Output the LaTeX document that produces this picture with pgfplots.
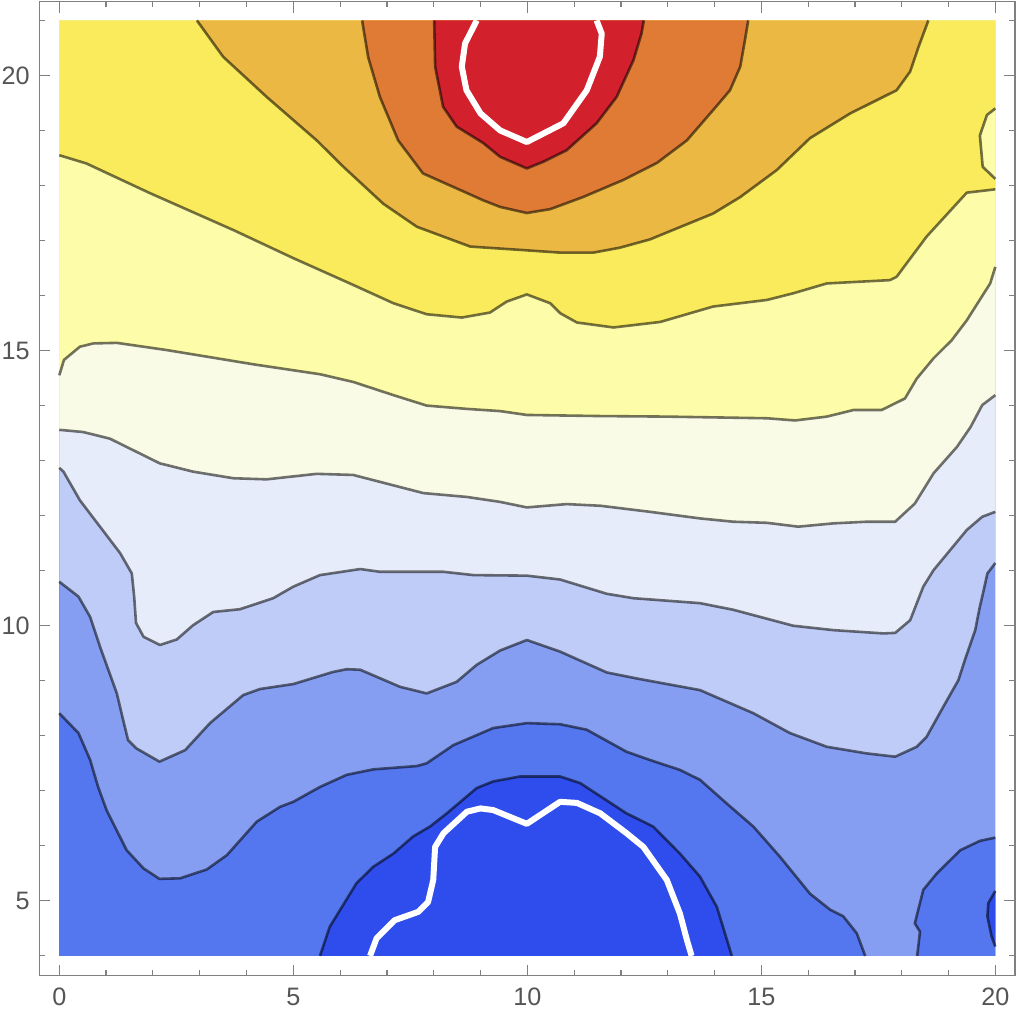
\documentclass[border=0pt]{standalone}
\usepackage{fontspec}
\setmainfont{Liberation Sans}
\usepackage{pgfplots}
\usepackage{pgfplotstable}
\pgfplotsset{compat=1.18}

% band colours, low to high
\definecolor{b0}{RGB}{46,77,236}
\definecolor{b1}{RGB}{84,118,238}
\definecolor{b2}{RGB}{133,158,241}
\definecolor{b3}{RGB}{191,204,247}
\definecolor{b4}{RGB}{231,236,250}
\definecolor{b5}{RGB}{250,251,230}
\definecolor{b6}{RGB}{253,252,168}
\definecolor{b7}{RGB}{249,235,91}
\definecolor{b8}{RGB}{235,185,67}
\definecolor{b9}{RGB}{223,123,53}
\definecolor{b10}{RGB}{210,32,45}
\definecolor{framegray}{RGB}{128,128,128}
\definecolor{labelgray}{RGB}{85,85,85}

% contour lines
\pgfplotstableread{
x y
5.57 4.00
5.78 4.53
6.35 5.32
6.71 5.62
7.14 5.86
7.56 6.17
7.92 6.35
8.28 6.59
8.92 7.05
9.27 7.17
9.84 7.26
10.70 7.26
11.13 7.14
12.12 6.59
12.69 6.35
13.26 5.86
13.69 5.44
14.05 4.89
14.37 4.00
}\Cone
\pgfplotstableread{
x y
20.00 5.18
19.85 4.96
19.83 4.72
19.92 4.35
20.00 4.17
}\Conetiny
\pgfplotstableread{
x y
0.00 8.41
0.41 8.05
0.66 7.56
0.83 7.07
1.01 6.65
1.44 5.92
1.80 5.59
2.14 5.40
2.58 5.41
3.15 5.57
3.58 5.83
4.22 6.44
4.72 6.71
5.00 6.80
5.57 7.07
6.14 7.29
6.71 7.39
7.64 7.45
7.85 7.50
8.42 7.83
9.27 8.14
9.99 8.23
10.70 8.21
11.27 8.11
12.12 7.71
12.62 7.56
13.26 7.38
13.69 7.20
14.26 6.77
14.83 6.35
15.40 5.80
16.04 5.13
16.47 4.84
16.75 4.72
17.04 4.41
17.22 4.00
}\Ctwo
\pgfplotstableread{
x y
18.33 4.00
18.39 4.44
18.28 4.59
18.46 5.20
18.75 5.50
19.25 5.92
19.67 6.09
20.00 6.15
}\Ctwoblob
\pgfplotstableread{
x y
0.00 10.80
0.41 10.53
0.66 10.16
0.87 9.62
1.23 8.77
1.33 8.41
1.47 7.92
1.65 7.77
2.14 7.53
2.69 7.74
3.22 8.23
3.93 8.74
4.29 8.85
5.00 8.94
5.85 9.16
6.14 9.21
6.43 9.20
7.28 8.89
7.85 8.77
8.49 8.98
8.92 9.29
9.42 9.55
9.99 9.74
10.70 9.53
11.70 9.15
12.41 9.03
13.69 8.83
14.83 8.41
15.61 8.05
16.40 7.80
17.25 7.68
17.86 7.62
18.32 7.80
18.53 7.98
18.89 8.53
19.21 9.01
19.35 9.38
19.57 9.92
19.67 10.35
19.72 10.53
19.83 10.95
20.00 11.14
}\Cthree
\pgfplotstableread{
x y
0.00 12.87
0.09 12.80
0.44 12.28
0.87 11.80
1.30 11.32
1.55 10.95
1.60 10.53
1.64 10.05
1.80 9.80
2.15 9.65
2.51 9.75
2.86 10.01
3.29 10.25
3.86 10.30
4.57 10.50
5.00 10.71
5.57 10.92
6.43 11.03
6.85 10.98
8.21 10.98
8.85 10.92
9.99 10.91
10.70 10.84
11.70 10.58
12.27 10.50
13.69 10.41
14.40 10.29
15.68 10.00
16.54 9.92
17.61 9.86
17.86 9.87
18.18 10.10
18.46 10.71
18.68 11.01
19.39 11.74
19.72 11.98
20.00 12.07
}\Cfour
\pgfplotstableread{
x y
0.00 13.56
0.51 13.52
1.08 13.40
2.15 12.95
2.86 12.80
3.72 12.68
4.43 12.66
5.50 12.76
6.28 12.74
7.78 12.41
8.71 12.34
9.42 12.25
9.99 12.15
10.84 12.21
11.56 12.18
12.62 12.07
13.69 11.95
14.40 11.89
15.12 11.87
15.79 11.80
16.54 11.86
17.25 11.89
17.86 11.89
18.28 12.22
18.68 12.77
19.18 13.25
19.47 13.61
19.72 14.01
20.00 14.19
}\Cfive
\pgfplotstableread{
x y
0.00 14.55
0.10 14.83
0.44 15.07
0.73 15.13
1.23 15.14
2.29 15.01
4.15 14.75
5.57 14.57
6.28 14.43
7.14 14.19
7.85 14.00
8.71 13.94
9.42 13.90
9.99 13.83
11.56 13.81
12.98 13.80
15.12 13.77
15.72 13.73
16.40 13.80
16.97 13.92
17.57 13.92
18.07 14.13
18.32 14.49
18.68 14.86
19.07 15.19
19.39 15.55
19.89 16.22
20.00 16.52
}\Csix
\pgfplotstableread{
x y
0.00 18.55
0.58 18.40
1.94 17.86
3.72 17.19
5.00 16.68
6.21 16.22
7.14 15.86
7.85 15.66
8.60 15.60
9.20 15.69
9.56 15.89
9.99 16.02
10.49 15.86
10.70 15.68
11.06 15.51
11.84 15.42
12.84 15.52
13.97 15.80
15.12 15.92
15.68 16.04
16.40 16.22
17.75 16.28
17.89 16.34
18.53 17.07
19.39 17.87
20.00 17.93
}\Cseven
\pgfplotstableread{
x y
20.00 19.40
19.82 19.28
19.67 18.91
19.73 18.34
20.00 18.12
}\Cbump
\pgfplotstableread{
x y
2.94 21.00
3.50 20.34
4.43 19.61
5.50 18.82
6.07 18.34
6.92 17.67
7.64 17.25
8.78 16.89
9.84 16.83
10.70 16.78
11.41 16.78
11.98 16.87
12.62 17.02
13.97 17.49
14.55 17.79
15.33 18.28
16.04 18.86
16.90 19.31
17.89 19.73
18.18 20.07
18.36 20.52
18.57 21.00
}\Ceight
\pgfplotstableread{
x y
6.47 21.00
6.60 20.33
6.85 19.61
7.24 18.82
7.77 18.22
8.56 17.92
9.06 17.73
9.42 17.61
9.99 17.50
10.49 17.57
11.19 17.79
12.05 18.10
12.77 18.41
13.41 18.82
13.97 19.37
14.33 19.73
14.55 20.16
14.65 20.64
14.72 21.00
}\Cnine
\pgfplotstableread{
x y
8.01 21.00
8.03 20.16
8.20 19.43
8.49 19.07
9.06 18.77
9.42 18.52
9.99 18.31
10.34 18.43
10.84 18.64
11.48 19.13
11.91 19.61
12.27 20.28
12.44 20.76
12.49 21.00
}\Cten
\pgfplotstableread{
x y
8.92 21.00
8.67 20.58
8.60 20.16
8.70 19.73
9.00 19.31
9.42 19.00
9.99 18.79
10.77 19.13
11.27 19.73
11.55 20.34
11.59 20.76
11.48 21.00
}\Wtop
\pgfplotstableread{
x y
6.64 4.00
6.78 4.32
7.17 4.65
7.67 4.80
7.88 4.98
7.99 5.38
8.03 5.98
8.21 6.23
8.71 6.62
9.00 6.68
9.27 6.65
9.99 6.40
10.70 6.80
11.06 6.78
11.56 6.59
12.12 6.23
12.48 5.98
12.98 5.38
13.26 4.77
13.41 4.29
13.51 4.00
}\Wbot

\begin{document}
\begin{tikzpicture}
\begin{axis}[
    scale only axis,
    width=487.85pt, height=487pt,
    xmin=-0.427, xmax=20.42,
    ymin=3.64, ymax=21.34,
    axis on top,
    no markers,
    axis line style={draw=framegray, line width=0.7pt},
    xtick={0,5,10,15,20},
    ytick={5,10,15,20},
    minor xtick={0,1,...,20},
    minor ytick={4,5,...,21},
    tick align=inside,
    major tick length=5.5pt,
    minor tick length=2.8pt,
    every tick/.style={draw=framegray, line width=0.6pt},
    tick label style={font=\fontsize{12.6}{15}\selectfont, text=labelgray},
    /pgf/number format/assume math mode=true,
    xticklabel style={yshift=-2.5pt},
    yticklabel style={inner xsep=0pt, xshift=-4.6pt},
    contour/.style={draw=black, draw opacity=0.55, line width=1.3pt, line join=round},
    whiteline/.style={draw=white, line width=3pt, line join=round},
]
% filled bands, painted from low to high
\addplot[fill=b1, draw=none] coordinates {(0,4) (20,4) (20,21) (0,21)} -- cycle;
\addplot[fill=b0, draw=none] table {\Cone} -- cycle;
\addplot[fill=b2, draw=none] table {\Ctwo} -- (axis cs:20,4) -- (axis cs:20,21) -- (axis cs:0,21) -- cycle;
\addplot[fill=b1, draw=none] table {\Ctwoblob} -- (axis cs:20,4) -- cycle;
\addplot[fill=b0, draw=none] table {\Conetiny} -- cycle;
\addplot[fill=b3, draw=none] table {\Cthree} |- (axis cs:0,21) -- cycle;
\addplot[fill=b4, draw=none] table {\Cfour} |- (axis cs:0,21) -- cycle;
\addplot[fill=b5, draw=none] table {\Cfive} |- (axis cs:0,21) -- cycle;
\addplot[fill=b6, draw=none] table {\Csix} |- (axis cs:0,21) -- cycle;
\addplot[fill=b7, draw=none] table {\Cseven} |- (axis cs:0,21) -- cycle;
\addplot[fill=b6, draw=none] table {\Cbump} -- cycle;
\addplot[fill=b8, draw=none] table {\Ceight} -- cycle;
\addplot[fill=b9, draw=none] table {\Cnine} -- cycle;
\addplot[fill=b10, draw=none] table {\Cten} -- cycle;

% contour lines
\addplot[contour] table {\Cone};
\addplot[contour] table {\Conetiny};
\addplot[contour] table {\Ctwo};
\addplot[contour] table {\Ctwoblob};
\addplot[contour] table {\Cthree};
\addplot[contour] table {\Cfour};
\addplot[contour] table {\Cfive};
\addplot[contour] table {\Csix};
\addplot[contour] table {\Cseven};
\addplot[contour] table {\Cbump};
\addplot[contour] table {\Ceight};
\addplot[contour] table {\Cnine};
\addplot[contour] table {\Cten};
\addplot[whiteline] table {\Wtop};
\addplot[whiteline] table {\Wbot};
\end{axis}
% keep the reference's outer margins
\path (current axis.south west) ++(-19.65pt,-24.15pt);
\path (current axis.north east) ++(2pt,0.85pt);
\end{tikzpicture}
\end{document}
